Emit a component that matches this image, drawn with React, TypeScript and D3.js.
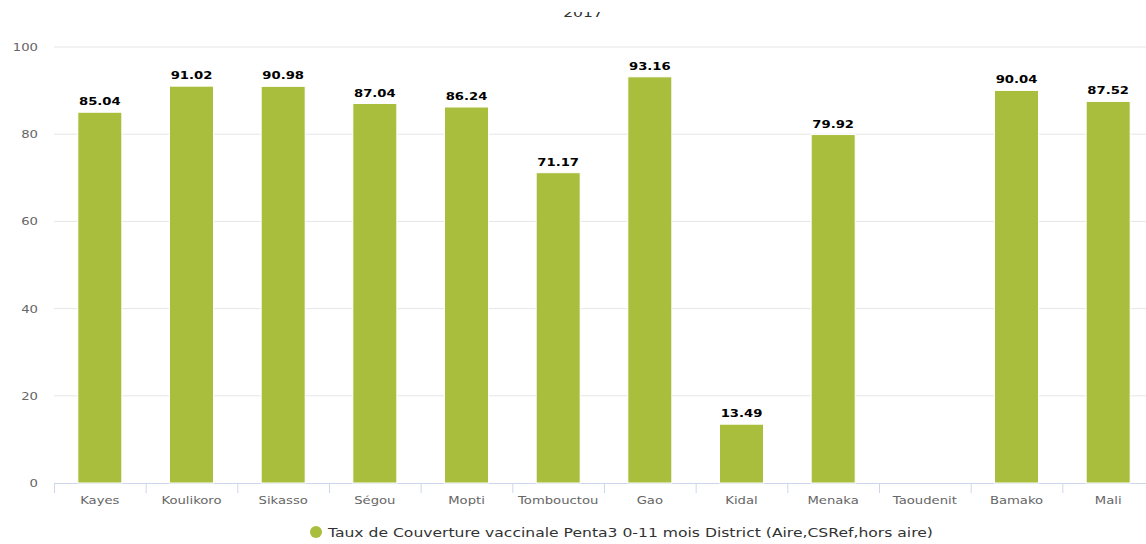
import React from "react";
import * as d3 from "d3";

const categories = ["Kayes", "Koulikoro", "Sikasso", "Ségou", "Mopti", "Tombouctou", "Gao", "Kidal", "Menaka", "Taoudenit", "Bamako", "Mali"];
const values: (number | null)[] = [85.04, 91.02, 90.98, 87.04, 86.24, 71.17, 93.16, 13.49, 79.92, null, 90.04, 87.52];
const yTicks = [0, 20, 40, 60, 80, 100];
const seriesName = "Taux de Couverture vaccinale Penta3 0-11 mois District (Aire,CSRef,hors aire)";
const title = "2017";

const W = 1146;
const H = 544;
const left = 54;
const right = 1154;
const top = 47;
const bottom = 483;
const barColor = "#a9be3c";
const font = "DejaVu Sans, Verdana, sans-serif";
const SX = 1.2;

function T(props: any) {
  const { x, y, children, ...rest } = props;
  return (
    <text transform={`translate(${x},${y}) scale(${SX},1)`} x={0} y={0} {...rest}>
      {children}
    </text>
  );
}

export default function App() {
  const x = d3.scaleBand<string>().domain(categories).range([left, right]).paddingInner(0).paddingOuter(0);
  const y = d3.scaleLinear().domain([0, 100]).range([bottom, top]);
  const bw = 44;
  const edges = categories.map((c) => x(c)!).concat([right]);
  return (
    <svg width={W} height={H} style={{ position: "absolute", left: 0, top: 0, fontFamily: font }}>
      <defs>
        <clipPath id="titleClip">
          <rect x={0} y={12} width={W} height={20} />
        </clipPath>
      </defs>
      <rect x={0} y={0} width={W} height={H} fill="#fff" />
      <g clipPath="url(#titleClip)">
        <T x={583} y={16.5} textAnchor="middle" fontSize={13} fill="#333">{title}</T>
      </g>
      {yTicks.map((t) => (
        <g key={t}>
          {t !== 0 && <line x1={left} x2={W} y1={y(t)} y2={y(t)} stroke="#e6e6e6" strokeWidth={1} />}
          <T x={38} y={y(t) + 4} textAnchor="end" fontSize={11} fill="#666">{t}</T>
        </g>
      ))}
      <line x1={left} x2={W} y1={bottom + 0.5} y2={bottom + 0.5} stroke="#ccd6eb" strokeWidth={1} />
      {edges.map((e, i) => (
        <line key={i} x1={e + 0.5} x2={e + 0.5} y1={bottom} y2={bottom + 10} stroke="#ccd6eb" strokeWidth={1} />
      ))}
      {categories.map((c) => (
        <T key={c} x={x(c)! + x.bandwidth() / 2} y={504} textAnchor="middle" fontSize={11} fill="#666">{c}</T>
      ))}
      {categories.map((c, i) => {
        const v = values[i];
        if (v == null) return null;
        const cx = x(c)! + x.bandwidth() / 2;
        return (
          <g key={c}>
            <rect x={cx - bw / 2} y={y(v)} width={bw} height={bottom - y(v)} fill={barColor} stroke="#fff" strokeWidth={1} />
            <T x={cx} y={y(v) - 7} textAnchor="middle" fontSize={11} fontWeight="bold" fill="#000"
              stroke="#fff" strokeWidth={2} paintOrder="stroke" strokeLinejoin="round">{v.toFixed(2)}</T>
          </g>
        );
      })}
      <circle cx={316} cy={532} r={6} fill={barColor} />
      <T x={328} y={537} fontSize={13} fill="#333">{seriesName}</T>
    </svg>
  );
}
